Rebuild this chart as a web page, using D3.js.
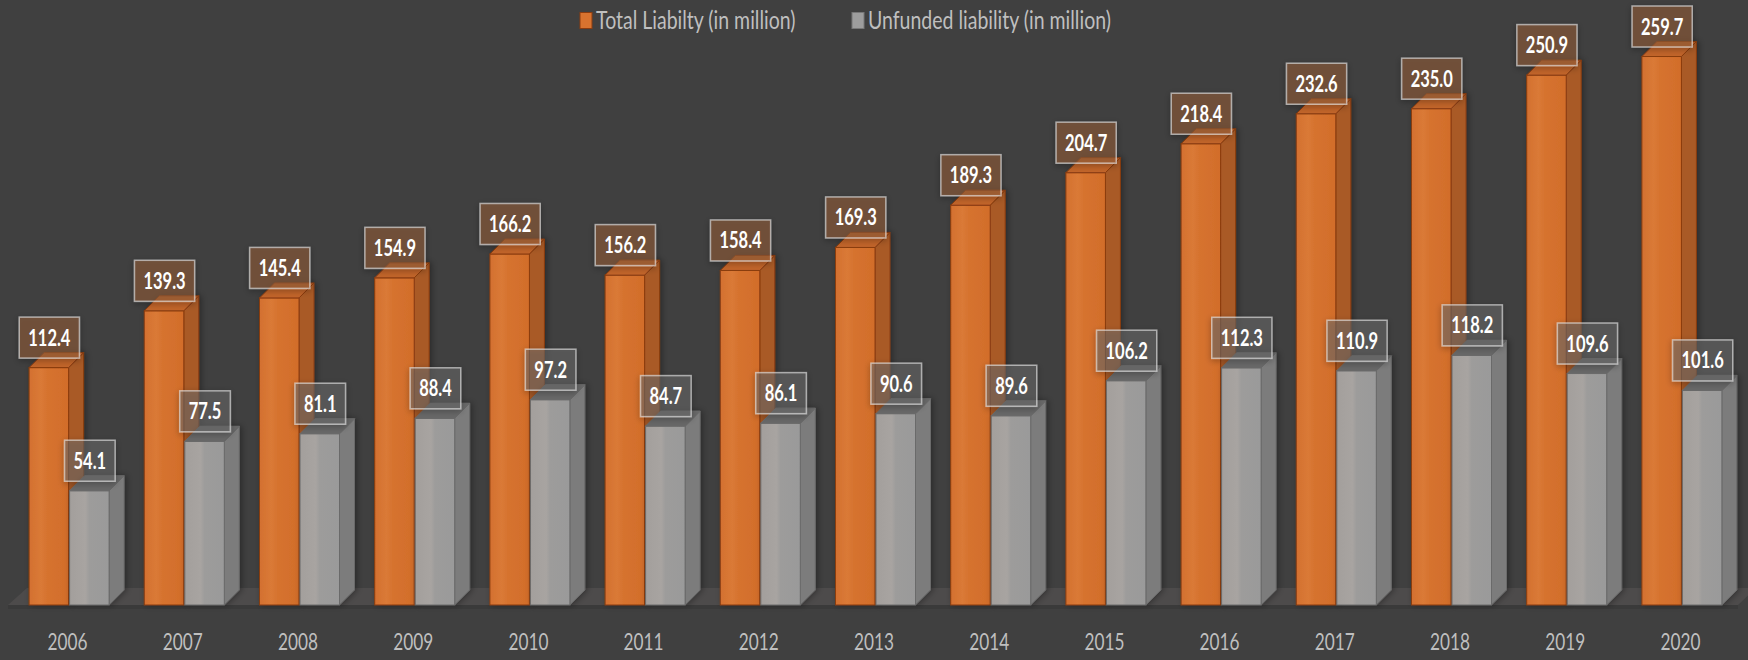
<!DOCTYPE html>
<html><head><meta charset="utf-8">
<script src="https://cdn.jsdelivr.net/npm/d3@7/dist/d3.min.js"></script>
<style>html,body{margin:0;padding:0;background:#404040;} svg{display:block}</style>
</head><body>
<svg id="chart" width="1748" height="660"></svg>
<script>
const years = ["2006","2007","2008","2009","2010","2011","2012","2013","2014","2015","2016","2017","2018","2019","2020"];
const totalLiability = [112.4,139.3,145.4,154.9,166.2,156.2,158.4,169.3,189.3,204.7,218.4,232.6,235.0,250.9,259.7];
const unfundedLiability = [54.1,77.5,81.1,88.4,97.2,84.7,86.1,90.6,89.6,106.2,112.3,110.9,118.2,109.6,101.6];
const seriesKeys = ["total","unfunded"];
const seriesNames = ["Total Liabilty (in million)","Unfunded liability (in million)"];

const W = 1748, H = 660;
const base = 605, depth = 15, sx = 0.75;
const svg = d3.select("#chart");
svg.append("rect").attr("width",W).attr("height",H).attr("fill","#404040");

const defs = svg.append("defs");
const f = defs.append("filter").attr("id","sh").attr("x","-30%").attr("y","-30%").attr("width","160%").attr("height","160%");
f.append("feDropShadow").attr("dx",0).attr("dy",2).attr("stdDeviation",3).attr("flood-color","#000").attr("flood-opacity",0.45);
const fb = defs.append("filter").attr("id","shb").attr("x","-30%").attr("y","-10%").attr("width","160%").attr("height","120%");
fb.append("feDropShadow").attr("dx",2).attr("dy",0).attr("stdDeviation",3).attr("flood-color","#000").attr("flood-opacity",0.35);

function grad(id, stops){
  const g = defs.append("linearGradient").attr("id",id).attr("x1","0").attr("x2","1").attr("y1","0").attr("y2","0");
  stops.forEach(s=>g.append("stop").attr("offset",s[0]).attr("stop-color",s[1]));
}
grad("gOr",[[0,"#d3702f"],[0.3,"#da7a37"],[0.45,"#d6732f"],[1,"#d26d2b"]]);
grad("gGr",[[0,"#a39f9c"],[0.4,"#a8a4a1"],[0.5,"#9d9c9b"],[1,"#9a9a9a"]]);

const style = {
  total:{front:"url(#gOr)", side:"#a95a26", top:"#c2652c", stroke:"#8a3c10", box:"rgba(150,95,60,0.55)"},
  unfunded:{front:"url(#gGr)", side:"#7b7b7b", top:"#686868", stroke:"#6a6a6a", box:"rgba(110,110,110,0.5)"}
};

const x0 = d3.scaleBand().domain(years).range([12,1740]).padding(0);
const c = x0.bandwidth()/2;
const x1 = d3.scaleBand().domain(seriesKeys).range([c-40.5, c+40.5]);
const y = d3.scaleLinear().domain([0,260]).range([base, base-260*2.112]);

// floor
svg.append("polygon").attr("points",[[8,base],[27,base-17],[1756,base-17],[1738,base]].map(p=>p.join(",")).join(" ")).attr("fill","#4d4b4b");
svg.append("rect").attr("x",8).attr("y",base).attr("width",1730).attr("height",4).attr("fill","#3a3a3a");

const data = years.map((yr,i)=>({year:yr, total:totalLiability[i], unfunded:unfundedLiability[i]}));

const gBars = svg.append("g");
data.forEach(d=>{
  seriesKeys.forEach(k=>{
    const v = d[k], st = style[k];
    const bx = x0(d.year)+x1(k), bw = x1.bandwidth()-1, ty = y(v);
    const g = gBars.append("g").attr("filter","url(#shb)");
    g.append("polygon").attr("points",[[bx+bw,ty],[bx+bw+depth,ty-depth],[bx+bw+depth,base-depth],[bx+bw,base]].map(p=>p.join(",")).join(" "))
      .attr("fill",st.side).attr("stroke",st.stroke).attr("stroke-width",1).attr("stroke-linejoin","round");
    g.append("rect").attr("x",bx).attr("y",ty).attr("width",bw).attr("height",base-ty)
      .attr("fill",st.front).attr("stroke",st.stroke).attr("stroke-width",1);
    g.append("polygon").attr("points",[[bx,ty],[bx+depth,ty-depth],[bx+bw+depth,ty-depth],[bx+bw,ty]].map(p=>p.join(",")).join(" "))
      .attr("fill",st.top).attr("stroke",st.stroke).attr("stroke-width",1).attr("stroke-linejoin","round");
  });
});

// data labels
const gLab = svg.append("g");
data.forEach(d=>{
  seriesKeys.forEach(k=>{
    const v = d[k], st = style[k];
    const cx = x0(d.year)+x1(k)+x1.bandwidth()/2;
    const bottom = y(v)-9.5, h = 41;
    const g = gLab.append("g");
    const box = g.append("rect");
    const t = g.append("text").attr("transform",`translate(${cx},${bottom-h/2+8}) scale(${sx},1)`)
      .attr("text-anchor","middle").attr("font-family","Lato, 'Open Sans', sans-serif").attr("font-weight","bold")
      .attr("font-size",22).attr("fill","#ffffff").text(v.toFixed(1));
    const tw = t.node().getComputedTextLength()*sx;
    const bw = tw+18;
    box.attr("x",cx-bw/2).attr("y",bottom-h).attr("width",bw).attr("height",h)
      .attr("fill",st.box).attr("stroke","rgba(225,225,225,0.65)").attr("stroke-width",1.5).attr("filter","url(#sh)");
  });
});

// x axis labels
svg.append("g").selectAll("text").data(years).join("text")
  .attr("transform",d=>`translate(${x0(d)+c-2},650) scale(${sx},1)`)
  .attr("text-anchor","middle").attr("font-family","Lato, 'Open Sans', sans-serif").attr("font-size",23)
  .attr("fill","#bfbfbf").text(d=>d);

// legend
const legX = [580, 852];
const legCol = [["#d8732f","#8a3c10"],["#9d9d9d","#777"]];
seriesNames.forEach((n,i)=>{
  svg.append("rect").attr("x",legX[i]).attr("y",12.5).attr("width",12).attr("height",16)
    .attr("fill",legCol[i][0]).attr("stroke",legCol[i][1]).attr("stroke-width",1);
  svg.append("text").attr("transform",`translate(${legX[i]+16},28.5) scale(0.78,1)`)
    .attr("font-family","Lato, 'Open Sans', sans-serif").attr("font-size",25).attr("fill","#bfbfbf").text(n);
});
</script>
</body></html>
